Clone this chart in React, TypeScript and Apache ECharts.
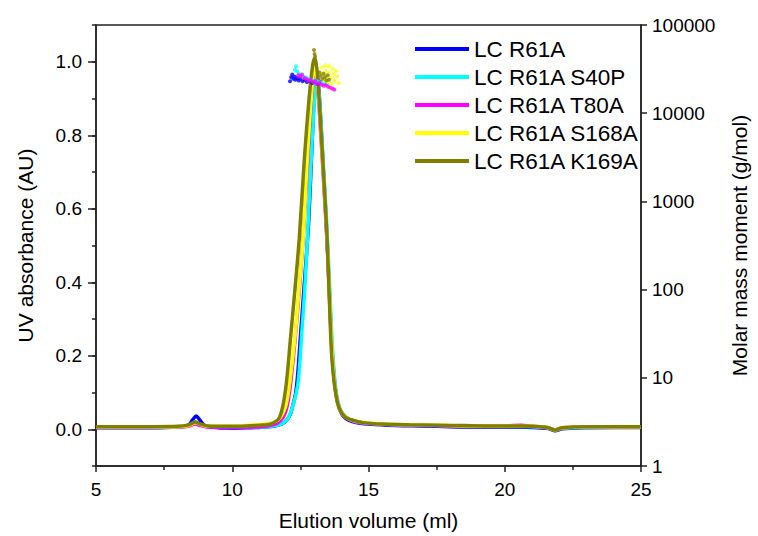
import React, { useEffect, useRef } from "react";
import * as echarts from "echarts";

const seriesNames = ["LC R61A", "LC R61A S40P", "LC R61A T80A", "LC R61A S168A", "LC R61A K169A"];
const seriesColors = ["#0000FF", "#00FFFF", "#FF00FF", "#FFFF00", "#808000"];

const uvR61A: [number, number][] = [
  [5, 0.004], [6, 0.004], [7, 0.004], [8, 0.006], [8.4, 0.012], [8.55, 0.026], [8.68, 0.036], [8.8, 0.026],
  [9.0, 0.01], [9.5, 0.004], [10, 0.003], [10.5, 0.004], [11, 0.005], [11.5, 0.008], [11.8, 0.014],
  [12.0, 0.025], [12.15, 0.045], [12.35, 0.11], [12.5, 0.25], [12.65, 0.4], [12.8, 0.56], [12.92, 0.76],
  [13.02, 0.92], [13.1, 0.97], [13.2, 0.9], [13.32, 0.74], [13.45, 0.56], [13.57, 0.37], [13.66, 0.22],
  [13.8, 0.1], [13.95, 0.052], [14.15, 0.03], [14.5, 0.019], [15, 0.014], [16, 0.01], [17, 0.009],
  [18, 0.007], [19, 0.006], [20, 0.006], [21, 0.005], [21.6, 0.002], [21.85, -0.004], [22.1, 0.001],
  [23, 0.004], [24, 0.005], [25, 0.005],
];
const uvS40P: [number, number][] = [
  [5, 0.005], [7, 0.005], [8, 0.006], [8.4, 0.01], [8.65, 0.02], [8.8, 0.014], [9.1, 0.007], [10, 0.005],
  [11, 0.006], [11.5, 0.009], [11.85, 0.016], [12.05, 0.03], [12.25, 0.07], [12.42, 0.13], [12.55, 0.26],
  [12.66, 0.38], [12.76, 0.52], [12.9, 0.74], [13.02, 0.9], [13.1, 0.96], [13.2, 0.9], [13.32, 0.75],
  [13.46, 0.57], [13.58, 0.38], [13.68, 0.22], [13.8, 0.11], [13.96, 0.055], [14.2, 0.032], [14.5, 0.021],
  [15, 0.016], [16, 0.012], [17, 0.011], [18, 0.009], [19, 0.008], [20, 0.008], [21, 0.007], [21.6, 0.004],
  [21.85, -0.002], [22.1, 0.003], [23, 0.005], [25, 0.006],
];
const uvT80A: [number, number][] = [
  [5, 0.005], [7, 0.005], [8, 0.006], [8.4, 0.008], [8.65, 0.014], [8.8, 0.011], [9.1, 0.006], [10, 0.005],
  [11, 0.007], [11.5, 0.012], [11.75, 0.022], [11.95, 0.045], [12.1, 0.1], [12.3, 0.24], [12.45, 0.37],
  [12.6, 0.52], [12.76, 0.72], [12.9, 0.89], [13.02, 0.97], [13.12, 0.94], [13.25, 0.8], [13.38, 0.64],
  [13.5, 0.48], [13.6, 0.3], [13.7, 0.17], [13.82, 0.09], [13.97, 0.05], [14.2, 0.031], [14.5, 0.021],
  [15, 0.016], [16, 0.012], [17, 0.011], [18, 0.009], [19, 0.009], [20, 0.009], [20.6, 0.011], [21, 0.008],
  [21.6, 0.004], [21.85, -0.002], [22.1, 0.004], [23, 0.006], [25, 0.006],
];
const uvS168A: [number, number][] = [
  [5, 0.006], [7, 0.006], [8, 0.007], [8.4, 0.01], [8.65, 0.018], [8.8, 0.014], [9.1, 0.008], [10, 0.008],
  [10.5, 0.01], [11, 0.013], [11.5, 0.018], [11.75, 0.03], [11.95, 0.06], [12.08, 0.11], [12.3, 0.25],
  [12.45, 0.38], [12.6, 0.52], [12.75, 0.73], [12.9, 0.9], [13.02, 0.99], [13.12, 0.95], [13.25, 0.81],
  [13.38, 0.65], [13.5, 0.49], [13.6, 0.31], [13.7, 0.17], [13.82, 0.09], [13.97, 0.05], [14.2, 0.031],
  [14.5, 0.022], [15, 0.017], [16, 0.013], [17, 0.012], [18, 0.01], [19, 0.009], [20, 0.009], [21, 0.008],
  [21.6, 0.004], [21.85, -0.002], [22.1, 0.004], [23, 0.006], [25, 0.006],
];
const uvK169A: [number, number][] = [
  [5, 0.007], [7, 0.007], [8, 0.008], [8.4, 0.012], [8.65, 0.02], [8.8, 0.015], [9.1, 0.009], [10, 0.008],
  [10.5, 0.009], [11, 0.011], [11.4, 0.014], [11.74, 0.033], [11.96, 0.11], [12.14, 0.25], [12.3, 0.38],
  [12.46, 0.52], [12.65, 0.74], [12.82, 0.9], [12.95, 0.99], [13.03, 1.01], [13.12, 0.97], [13.25, 0.82],
  [13.37, 0.67], [13.48, 0.52], [13.57, 0.34], [13.65, 0.2], [13.77, 0.11], [13.92, 0.058], [14.13, 0.034],
  [14.45, 0.024], [14.8, 0.018], [15.5, 0.014], [16.5, 0.012], [17.5, 0.011], [18.5, 0.01], [19.5, 0.009],
  [20.5, 0.009], [21, 0.008], [21.6, 0.004], [21.85, -0.002], [22.1, 0.004], [23, 0.007], [25, 0.007],
];
const uvSeries = [uvR61A, uvS40P, uvT80A, uvS168A, uvK169A];

const mmR61A: [number, number][] = [
  [12.12, 23000], [12.16, 25500], [12.2, 27500], [12.24, 24500], [12.28, 26000], [12.32, 24000],
  [12.38, 25000], [12.44, 23500], [12.5, 24500], [12.58, 23000], [12.66, 24000], [12.74, 22500],
  [12.84, 23500], [12.94, 22000], [13.04, 23000], [13.14, 21500], [13.24, 22500],
];
const mmS40P: [number, number][] = [
  [12.3, 31000], [12.34, 34000], [12.38, 30000], [12.44, 28000], [12.52, 27000], [12.6, 26000],
  [12.7, 25500], [12.8, 24500], [12.9, 24000], [13.0, 23500], [13.1, 23000], [13.2, 22500],
  [13.3, 22000], [13.4, 21500], [13.5, 21000],
];
const mmT80A: [number, number][] = [
  [12.42, 27000], [12.5, 26000], [12.56, 27500], [12.64, 25000], [12.72, 24500], [12.8, 23500],
  [12.88, 24000], [12.96, 22500], [13.04, 23000], [13.12, 21500], [13.2, 22000], [13.28, 21000],
  [13.36, 20500], [13.44, 21000], [13.52, 20000], [13.6, 19500], [13.68, 19000], [13.75, 18500],
];
const mmS168A: [number, number][] = [
  [13.3, 33000], [13.3, 28000], [13.35, 24000], [13.42, 35000], [13.42, 30000], [13.45, 26000],
  [13.5, 22500], [13.55, 34000], [13.55, 29000], [13.6, 25000], [13.65, 21500], [13.68, 32000],
  [13.72, 27500], [13.75, 23500], [13.8, 30000], [13.85, 26000], [13.9, 22000],
];
const mmK169A: [number, number][] = [
  [13.0, 52000], [13.02, 47000], [13.04, 44000], [13.2, 29000], [13.25, 26500], [13.3, 24500],
  [13.35, 28000], [13.4, 25500], [13.45, 23500], [13.5, 27000], [13.55, 24000],
];
const mmSeries = [mmR61A, mmS40P, mmT80A, mmS168A, mmK169A];

const leftCategories = ["-0.1", "0.0", "0.1", "0.2", "0.3", "0.4", "0.5", "0.6", "0.7", "0.8", "0.9", "1.0", "1.1"];

const FONT = "'Liberation Sans', Arial, sans-serif";
const AXIS_COLOR = "#222";

export default function App() {
  const ref = useRef<HTMLDivElement>(null);
  useEffect(() => {
    if (!ref.current) return;
    const chart = echarts.init(ref.current, null, { renderer: "svg" });
    const lineSeries = uvSeries.map((d, i) => ({
      name: seriesNames[i],
      type: "line",
      data: d,
      xAxisIndex: 0,
      yAxisIndex: 0,
      showSymbol: false,
      symbol: "none",
      smooth: 0.3,
      lineStyle: { color: seriesColors[i], width: 3.5 },
      itemStyle: { color: seriesColors[i] },
      z: 2 + i,
    }));
    const scatterSeries = mmSeries.map((d, i) => ({
      name: seriesNames[i] + " Mw",
      type: "scatter",
      data: d,
      xAxisIndex: 0,
      yAxisIndex: 1,
      symbol: "circle",
      symbolSize: 4,
      itemStyle: { color: seriesColors[i] },
      z: 10 + i,
    }));
    chart.setOption({
      animation: false,
      backgroundColor: "#fff",
      textStyle: { fontFamily: FONT },
      grid: {
        left: 96,
        right: 110,
        top: 25,
        bottom: 69,
        show: true,
        borderColor: AXIS_COLOR,
        borderWidth: 1.5,
        backgroundColor: "transparent",
      },
      legend: {
        data: seriesNames,
        orient: "vertical",
        left: 410,
        top: 32,
        icon: "rect",
        itemWidth: 54,
        itemHeight: 4,
        itemGap: 4,
        textStyle: { fontSize: 22.5, color: "#000", fontFamily: FONT, lineHeight: 24 },
      },
      xAxis: [
        {
          type: "value",
          min: 5,
          max: 25,
          interval: 5,
          position: "bottom",
          name: "Elution volume (ml)",
          nameLocation: "middle",
          nameGap: 44,
          nameTextStyle: { fontSize: 21, color: "#000", fontFamily: FONT },
          axisLine: { show: true, onZero: false, lineStyle: { color: AXIS_COLOR, width: 1.5 } },
          axisTick: { show: true, inside: false, length: 6, lineStyle: { color: AXIS_COLOR, width: 1.5 } },
          minorTick: { show: true, splitNumber: 2, length: 4, lineStyle: { color: AXIS_COLOR, width: 1.5 } },
          splitLine: { show: false },
          minorSplitLine: { show: false },
          axisLabel: { fontSize: 19, color: "#000", margin: 14, fontFamily: FONT },
        },
      ],
      yAxis: [
        {
          type: "value",
          min: -0.1,
          max: 1.1,
          interval: 0.1,
          position: "left",
          name: "UV absorbance (AU)",
          nameLocation: "middle",
          nameGap: 60,
          nameTextStyle: { fontSize: 21, color: "#000", fontFamily: FONT },
          axisLine: { show: true, onZero: false, lineStyle: { color: AXIS_COLOR, width: 1.5 } },
          axisTick: { show: true, inside: false, length: 4, lineStyle: { color: AXIS_COLOR, width: 1.5 } },
          splitLine: { show: false },
          axisLabel: {
            fontSize: 19,
            color: "#000",
            margin: 14,
            fontFamily: FONT,
            formatter: (v: number) => {
              const k = Math.round(v * 10);
              return k >= 0 && k <= 10 && k % 2 === 0 ? (k / 10).toFixed(1) : "";
            },
          },
        },
        {
          type: "log",
          logBase: 10,
          min: 1,
          max: 100000,
          position: "right",
          name: "Molar mass moment (g/mol)",
          nameLocation: "middle",
          nameGap: 88,
          nameTextStyle: { fontSize: 21, color: "#000", fontFamily: FONT },
          axisLine: { show: true, onZero: false, lineStyle: { color: AXIS_COLOR, width: 1.5 } },
          axisTick: { show: true, inside: false, length: 6, lineStyle: { color: AXIS_COLOR, width: 1.5 } },
          minorTick: { show: false },
          splitLine: { show: false },
          axisLabel: {
            fontSize: 19,
            color: "#000",
            margin: 11,
            fontFamily: FONT,
            formatter: (v: number) => String(Math.round(v)),
          },
        },
        {
          type: "category",
          data: leftCategories,
          boundaryGap: false,
          position: "left",
          axisLine: { show: false },
          axisLabel: { show: false },
          splitLine: { show: false },
          axisTick: {
            show: true,
            inside: false,
            length: 8,
            interval: (i: number) => i % 2 === 1,
            lineStyle: { color: AXIS_COLOR, width: 1.5 },
          },
        },
      ],
      series: [...lineSeries, ...scatterSeries],
    });
    return () => chart.dispose();
  }, []);
  return <div ref={ref} style={{ width: 758, height: 536, position: "absolute", left: 0, top: 0 }} />;
}
